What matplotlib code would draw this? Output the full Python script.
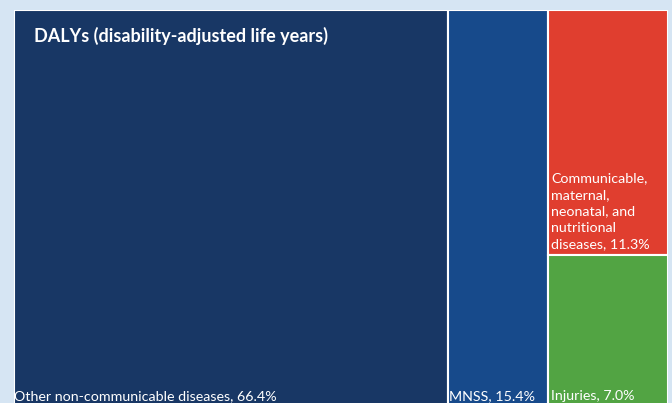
import matplotlib
matplotlib.use("Agg")
import matplotlib.pyplot as plt
from matplotlib.patches import Rectangle

title = "DALYs (disability-adjusted life years)"
labels = ["Other non-communicable diseases", "MNSS",
          "Communicable,\nmaternal,\nneonatal, and\nnutritional\ndiseases", "Injuries"]
values = [66.4, 15.4, 11.3, 7.0]
colors = ["#183765", "#174a8b", "#e03e2f", "#52a443"]
bg = "#d6e5f3"

W, H = 672, 403
fig = plt.figure(figsize=(W / 100, H / 100), dpi=100, facecolor=bg)
# treemap region in pixels: x 14..668, y 10..407
x0, x1, y0, y1 = 14, 668, 10, 407
ax = fig.add_axes([x0 / W, (H - y1) / H, (x1 - x0) / W, (y1 - y0) / H])
ax.set_xlim(0, 100)
ax.set_ylim(100, 0)
ax.axis("off")
ax.patch.set_alpha(0)

total = sum(values)
w0 = values[0] / total * 100
w1 = values[1] / total * 100
w2 = 100 - w0 - w1
h2 = values[2] / (values[2] + values[3]) * 100
rects = [
    (0, 0, w0, 100),
    (w0, 0, w1, 100),
    (w0 + w1, 0, w2, h2),
    (w0 + w1, h2, w2, 100 - h2),
]
pads = [0.05, 0.2, 0.45, 0.35]
for (rx, ry, rw, rh), c, lab, v, p in zip(rects, colors, labels, values, pads):
    ax.add_patch(Rectangle((rx, ry), rw, rh, facecolor=c, edgecolor="white", linewidth=1.5))
    ax.text(rx + p, ry + rh - 1.2, f"{lab}, {v:.1f}%", color="white", fontsize=10.3,
            family="Lato", ha="left", va="bottom", linespacing=1.45)

ax.text(3, 8, title, color="white", fontsize=13, fontweight="bold", family="Lato",
        ha="left", va="baseline")

fig.savefig("out.png", dpi=100, facecolor=bg)
